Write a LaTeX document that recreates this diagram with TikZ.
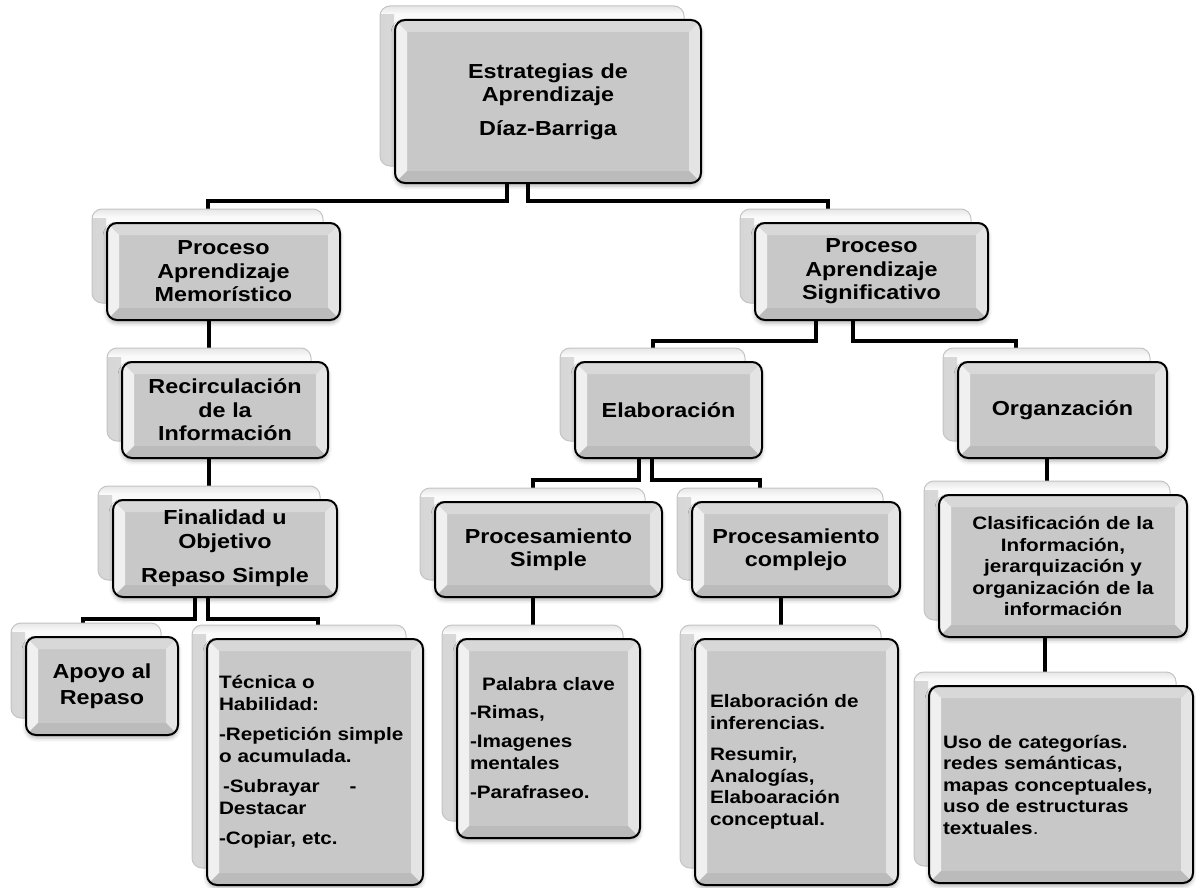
\documentclass[tikz,border=0pt]{standalone}
\usepackage{fontspec}
\newfontfamily\boxfont{Liberation Sans}[FakeStretch=1.15]
\usetikzlibrary{shadows.blur}
\pgfdeclarelayer{links}
\pgfsetlayers{links,main}

\definecolor{bevmid}{HTML}{C8C8C8}
\definecolor{bevtop}{HTML}{D8D8D8}
\definecolor{bevleft}{HTML}{F0F0F0}
\definecolor{bevright}{HTML}{E4E4E4}
\definecolor{bevbot}{HTML}{BBBBBB}
\definecolor{backfill}{HTML}{FAFAFA}
\definecolor{backedge}{HTML}{D6D6D6}
\definecolor{backline}{HTML}{C4C4C4}

\tikzset{
  backbox/.style={draw=backline, line width=1pt, rounded corners=10pt, fill=backfill, inner sep=0pt,
    path picture={
      \fill[sharp corners, left color=backedge, right color=backfill]
        (path picture bounding box.south west) rectangle ([xshift=14pt]path picture bounding box.north west);
      \fill[sharp corners, top color=backedge!60, bottom color=backfill]
        (path picture bounding box.north west) rectangle ([yshift=-8pt]path picture bounding box.north east);
    }},
  frontbox/.style={draw=black, line width=2pt, rounded corners=10pt, fill=bevmid, inner sep=0pt,
    blur shadow={shadow xshift=0pt, shadow yshift=-3pt, shadow blur radius=4pt, shadow opacity=30},
    path picture={
      \fill[bevtop, sharp corners] (path picture bounding box.north west) -- (path picture bounding box.north east)
        -- ([xshift=-12pt,yshift=-12pt]path picture bounding box.north east)
        -- ([xshift=12pt,yshift=-12pt]path picture bounding box.north west) -- cycle;
      \fill[bevleft, sharp corners] (path picture bounding box.north west)
        -- ([xshift=12pt,yshift=-12pt]path picture bounding box.north west)
        -- ([xshift=12pt,yshift=12pt]path picture bounding box.south west)
        -- (path picture bounding box.south west) -- cycle;
      \fill[bevright, sharp corners] (path picture bounding box.north east)
        -- ([xshift=-12pt,yshift=-12pt]path picture bounding box.north east)
        -- ([xshift=-12pt,yshift=12pt]path picture bounding box.south east)
        -- (path picture bounding box.south east) -- cycle;
      \fill[bevbot, sharp corners] (path picture bounding box.south west)
        -- ([xshift=12pt,yshift=12pt]path picture bounding box.south west)
        -- ([xshift=-12pt,yshift=12pt]path picture bounding box.south east)
        -- (path picture bounding box.south east) -- cycle;
    }},
  big/.style={font=\boxfont\bfseries\fontsize{20.3}{23.5}\selectfont, align=center},
  small/.style={font=\boxfont\bfseries\fontsize{18}{21.5}\selectfont},
  link/.style={line width=4pt, draw=black},
}

% front box given by its corners (x1,y1,x2,y2); a paler twin sits behind it, up and to the left
\newcommand\boxpair[7]{%
  \pgfmathsetmacro\dcx{(#2+#4)/2}%
  \pgfmathsetmacro\dcy{(#3+#5)/2}%
  \pgfmathsetmacro\dw{#4-#2}%
  \pgfmathsetmacro\dh{#5-#3}%
  \node[backbox, minimum width=\dw pt-2pt, minimum height=\dh pt-3pt] (#1-b) at (\dcx-16,\dcy-15.5) {};%
  \node[frontbox, minimum width=\dw pt, minimum height=\dh pt, #6] (#1) at (\dcx,\dcy) {#7};%
}

\begin{document}
\begin{tikzpicture}[x=1pt,y=-1pt]
\useasboundingbox (0,0) rectangle (1196,888);

\boxpair{root}{395}{20}{701}{183}{big, text width=280pt}{Estrategias de\\ Aprendizaje\\[10pt] Díaz-Barriga}
\boxpair{pam}{107}{223}{340}{320}{big, text width=220pt}{Proceso\\ Aprendizaje\\ Memorístico}
\boxpair{ps}{755}{223}{988}{320}{big, text width=220pt}{Proceso\\ Aprendizaje\\ Significativo}
\boxpair{rec}{122}{362}{328}{458}{big, text width=195pt}{Recirculación\\ de la\\ Información}
\boxpair{elab}{575}{362}{762}{458}{big, text width=175pt}{Elaboración}
\boxpair{org}{958}{362}{1167}{458}{big, text width=195pt}{Organzación}
\boxpair{fin}{113}{500}{337}{597}{big, text width=210pt}{Finalidad u\\ Objetivo\\[11pt] Repaso Simple}
\boxpair{psimp}{435}{502}{662}{597}{big, text width=215pt}{Procesamiento\\ Simple}
\boxpair{pcomp}{692}{502}{900}{597}{big, text width=200pt}{Procesamiento\\ complejo}
\boxpair{clas}{939}{495}{1187}{637}{small, align=center, text width=235pt}{Clasificación de la\\ Información,\\ jerarquización y\\ organización de la\\ información}
\boxpair{apoyo}{26}{637}{178}{735}{big, text width=140pt}{Apoyo al\\[3pt] Repaso}
\boxpair{tec}{207}{639}{423}{885}{small, align=left, text width=192pt}{Técnica o\\ Habilidad:\\[9pt] -Repetición simple\\ o acumulada.\\[9pt] \hspace*{4pt}-Subrayar\hspace{30pt}-\\ Destacar\\[9pt] -Copiar, etc.}
\boxpair{pal}{457}{639}{640}{838}{small, align=left, text width=157pt}{\makebox[157pt]{Palabra clave}\\[6pt] -Rimas,\\[8pt] -Imagenes\\ mentales\\[8pt] -Parafraseo.}
\boxpair{inf}{695}{639}{898}{885}{small, align=left, text width=173pt}{Elaboración de\\ inferencias.\\[10pt] Resumir,\\ Analogías,\\ Elaboaración\\ conceptual.}
\boxpair{uso}{929}{686}{1193}{883}{small, align=left, text width=236pt}{Uso de categorías.\\ redes semánticas,\\ mapas conceptuales,\\ uso de estructuras\\ textuales{\mdseries .}}

\begin{pgfonlayer}{links}
  % top level
  \draw[link] ([xshift=-41pt]root.south) -- ++(0,17) -| (pam-b.north);
  \draw[link] ([xshift=-20pt]root.south) -- ++(0,17) -| ([xshift=-28pt]ps-b.north);
  % memorising branch
  \draw[link] (pam.south -| rec-b.north) -- (rec-b.north);
  \draw[link] (rec.south -| fin-b.north) -- (fin-b.north);
  \draw[link] ([xshift=-30pt]fin.south) -- ++(0,21) -| ([xshift=-3pt]apoyo-b.north);
  \draw[link] ([xshift=-17pt]fin.south) -- ++(0,21) -| ([xshift=19pt]tec-b.north);
  % meaningful branch
  \draw[link] ([xshift=-55.5pt]ps.south) -- ++(0,20) -| (elab-b.north);
  \draw[link] ([xshift=-18.5pt]ps.south) -- ++(0,20) -| ([xshift=-30.5pt]org-b.north);
  \draw[link] ([xshift=-29.5pt]elab.south) -- ++(0,21) -| (psimp-b.north);
  \draw[link] ([xshift=-16.5pt]elab.south) -- ++(0,21) -| ([xshift=-20pt]pcomp-b.north);
  \draw[link] (psimp.south -| pal-b.north) -- (pal-b.north);
  \draw[link] (pcomp.south -| inf-b.north) -- (inf-b.north);
  \draw[link] (org.south -| clas-b.north) -- (clas-b.north);
  \draw[link] (clas.south -| uso-b.north) -- (uso-b.north);
\end{pgfonlayer}
\end{tikzpicture}
\end{document}
